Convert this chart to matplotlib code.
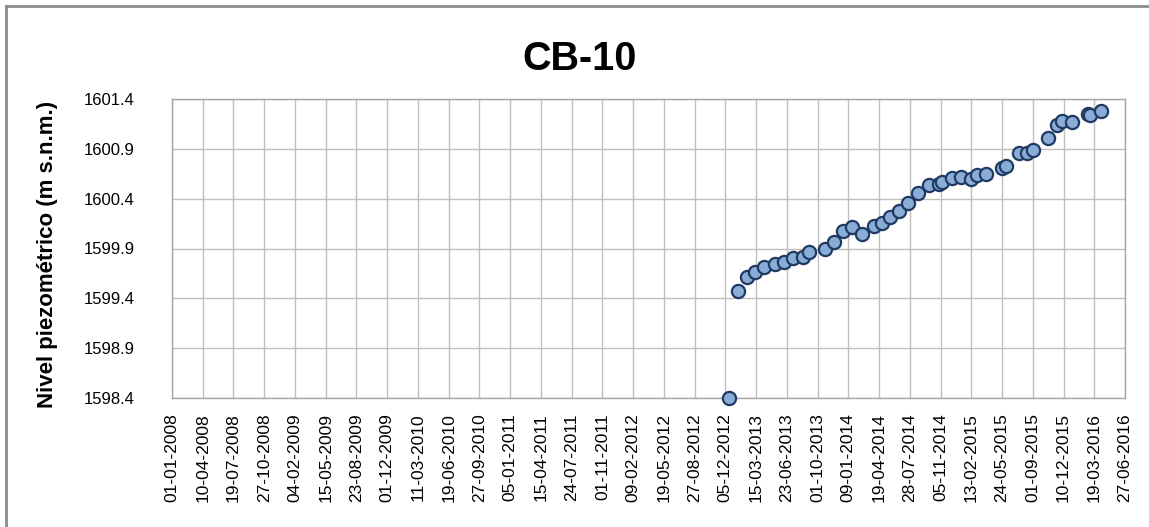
import matplotlib
matplotlib.use("Agg")
import matplotlib.pyplot as plt
import matplotlib.dates as mdates
from matplotlib.lines import Line2D
import pandas as pd

# Piezometric level readings, CB-10
fechas = ["2012-12-17", "2013-01-14", "2013-02-12", "2013-03-13", "2013-04-11",
          "2013-05-16", "2013-06-13", "2013-07-13", "2013-08-14", "2013-09-04",
          "2013-10-24", "2013-11-23", "2013-12-23", "2014-01-20", "2014-02-24",
          "2014-04-01", "2014-04-30", "2014-05-26", "2014-06-24", "2014-07-23",
          "2014-08-25", "2014-09-27", "2014-10-31", "2014-11-11", "2014-12-11",
          "2015-01-12", "2015-02-12", "2015-03-04", "2015-04-03", "2015-05-23",
          "2015-06-05", "2015-07-19", "2015-08-13", "2015-09-01", "2015-10-21",
          "2015-11-18", "2015-12-04", "2016-01-07", "2016-02-27", "2016-03-06",
          "2016-04-10"]
nivel = [1598.40, 1599.47, 1599.61, 1599.66, 1599.71,
         1599.74, 1599.76, 1599.80, 1599.81, 1599.86,
         1599.89, 1599.97, 1600.08, 1600.12, 1600.05,
         1600.13, 1600.16, 1600.22, 1600.28, 1600.36,
         1600.46, 1600.54, 1600.55, 1600.57, 1600.61,
         1600.62, 1600.60, 1600.64, 1600.65, 1600.71,
         1600.73, 1600.86, 1600.86, 1600.89, 1601.01,
         1601.14, 1601.18, 1601.17, 1601.25, 1601.24,
         1601.28]

y_ticks = [1598.4, 1598.9, 1599.4, 1599.9, 1600.4, 1600.9, 1601.4]
x_start = "2008-01-01"
x_end = "2016-06-27"

plt.rcParams['font.family'] = ['Liberation Sans', 'DejaVu Sans']

fig = plt.figure(figsize=(11.49, 5.27), dpi=100)
ax = fig.add_axes([172 / 1149, 1 - 398 / 527, (1125 - 172) / 1149, (398 - 99) / 527])

x = pd.to_datetime(fechas)
ax.plot(x, nivel, linestyle="none", marker="o", markersize=9.5,
        markerfacecolor="#8AADD8", markeredgecolor="#1F3B63", markeredgewidth=1.6,
        clip_on=False, zorder=3)

# x ticks every 100 days like the excel axis
x_ticks = pd.date_range(x_start, x_end, freq="100D")
ax.set_xlim(pd.Timestamp(x_start), pd.Timestamp(x_end))
ax.set_xticks(x_ticks)
ax.xaxis.set_major_formatter(mdates.DateFormatter("%d-%m-%Y"))
ax.tick_params(axis="x", rotation=90, length=0, pad=11, labelsize=12.5)

ax.set_ylim(y_ticks[0], y_ticks[-1])
ax.set_yticks(y_ticks)
ax.set_yticklabels(["{:.1f}".format(v) for v in y_ticks])
ax.tick_params(axis="y", length=0, pad=27, labelsize=12)

ax.grid(True, color="#BFBFBF", linewidth=1.0)
ax.set_axisbelow(True)
for s in ax.spines.values():
    s.set_color("#A6A6A6")
    s.set_linewidth(1.0)

ax.set_ylabel("Nivel piezométrico (m s.n.m.)", fontsize=16, fontweight="bold")
ax.yaxis.set_label_coords(-114 / 953, 0.48)
fig.text(580 / 1149, 1 - 59 / 527, "CB-10", fontsize=28.5, fontweight="bold",
         ha="center", va="center")

# chart frame (top and left edge visible)
fig.add_artist(Line2D([6 / 1149, 1.0], [1 - 6 / 527, 1 - 6 / 527], transform=fig.transFigure,
                      color="#8C8C8C", linewidth=2))
fig.add_artist(Line2D([6 / 1149, 6 / 1149], [0.0, 1 - 6 / 527], transform=fig.transFigure,
                      color="#8C8C8C", linewidth=2))

fig.savefig("out.png", dpi=100)
